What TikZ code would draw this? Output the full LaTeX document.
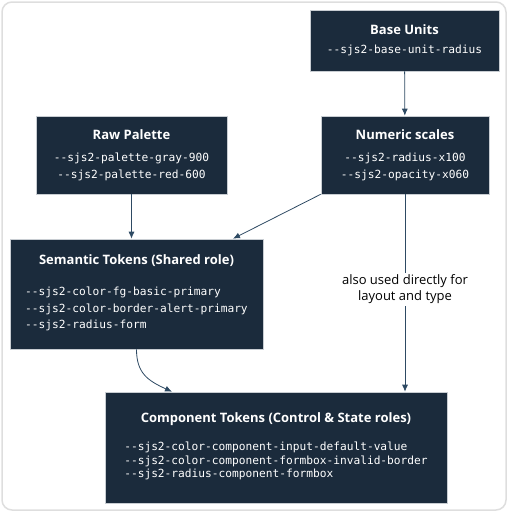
\documentclass[tikz,border=0pt]{standalone}
\usepackage{fontspec}
\setmainfont{Open Sans}
\setmonofont{DejaVu Sans Mono}
\usetikzlibrary{arrows.meta}

\definecolor{boxfill}{HTML}{1B2B3C}
\definecolor{boxline}{HTML}{C8CDD2}
\definecolor{linkcol}{HTML}{2E4A63}
\definecolor{framecol}{HTML}{DEDEDE}

\newcommand{\boxtitle}[1]{{\bfseries\fontsize{13}{17}\selectfont #1}}
\newcommand{\tok}[1]{{\ttfamily #1}}

\begin{document}
\begin{tikzpicture}[x=1pt,y=-1pt,
	tokenbox/.style={draw=boxline, fill=boxfill, text=white, align=center, inner sep=0pt, line width=0.6pt},
	link/.style={->, >={Latex[length=7pt,width=6pt]}, draw=linkcol, line width=0.8pt}]
		\useasboundingbox (0,0) rectangle (508,512);
		\draw[framecol, line width=1.5pt, rounded corners=10pt] (2,2) rectangle (506,510);

		\node[tokenbox, minimum width=189pt, minimum height=61pt, font=\fontsize{11.2}{17}\selectfont] (base) at (404.5,40.5)
			{\boxtitle{Base Units}\\[2pt]\tok{--sjs2-base-unit-radius}};
		\node[tokenbox, minimum width=191pt, minimum height=78pt, font=\fontsize{11.2}{17}\selectfont] (raw) at (131.5,155)
			{\boxtitle{Raw Palette}\\[5pt]\tok{--sjs2-palette-gray-900}\\\tok{--sjs2-palette-red-600}};
		\node[tokenbox, minimum width=168pt, minimum height=78pt, font=\fontsize{11.2}{17}\selectfont] (num) at (405,155)
			{\boxtitle{Numeric scales}\\[5pt]\tok{--sjs2-radius-x100}\\\tok{--sjs2-opacity-x060}};
		\node[tokenbox, minimum width=253pt, minimum height=110pt, font=\fontsize{11.2}{16.5}\selectfont] (sem) at (136.5,294)
			{\boxtitle{Semantic Tokens (Shared role)}\\[15pt]\begin{tabular}[t]{@{}l@{}}
				\tok{--sjs2-color-fg-basic-primary}\\
				\tok{--sjs2-color-border-alert-primary}\\
				\tok{--sjs2-radius-form}\end{tabular}};
		\node[tokenbox, minimum width=342pt, minimum height=111pt, font=\fontsize{11.2}{13.5}\selectfont] (comp) at (276,447.5)
			{\boxtitle{Component Tokens (Control \& State roles)}\\[14.5pt]\begin{tabular}[t]{@{}l@{}}
				\tok{--sjs2-color-component-input-default-value}\\
				\tok{--sjs2-color-component-formbox-invalid-border}\\
				\tok{--sjs2-radius-component-formbox}\end{tabular}};

		\path
		(base) edge[link] (num)
		(raw.south) edge[link] (raw.south |- sem.north)
		(num.south west) edge[link] ([xshift=96.5pt]sem.north)
		(num.south) edge[link] node[pos=0.48, fill=white, text=black, align=center, inner sep=2pt, font=\fontsize{13}{16}\selectfont] {also used directly for\\layout and type} (num.south |- comp.north);
		\draw[link] (sem.south) .. controls +(0,24) and +(-24,-11) .. ([xshift=-104pt]comp.north);
	\end{tikzpicture}
\end{document}
